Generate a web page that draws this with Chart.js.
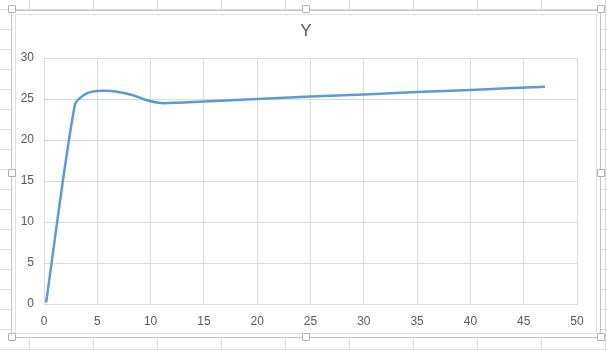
<!DOCTYPE html>
<html>
<head>
<meta charset="utf-8">
<script src="https://cdn.jsdelivr.net/npm/chart.js@4.4.0/dist/chart.umd.min.js"></script>
<style>
  html, body { margin: 0; padding: 0; }
  body {
    width: 607px; height: 350px; position: relative; overflow: hidden;
    background-color: #fff;
    background-image:
      linear-gradient(to right, #dadada 1px, transparent 1px),
      linear-gradient(to bottom, #dadada 1px, transparent 1px);
    background-size: 64px 20px;
    background-position: 29px 9px;
  }
  #frame {
    position: absolute; left: 11px; top: 10px; width: 588px; height: 326px;
    background: #fff; border: 1px solid #c4c4c4;
  }
  #inner {
    position: absolute; left: 3px; top: 3px; right: 3px; bottom: 3px;
    border: 1px solid #e2e2e2;
  }
  .h {
    position: absolute; width: 6px; height: 6px; background: #fff;
    border: 1px solid #b0b0b0; border-radius: 1px;
  }
  #wrap { position: absolute; left: 12px; top: 11px; width: 588px; height: 326px; }
</style>
</head>
<body>
<div id="frame"><div id="inner"></div></div>
<div class="h" style="left:8px;top:5px"></div>
<div class="h" style="left:302px;top:5px"></div>
<div class="h" style="left:597px;top:5px"></div>
<div class="h" style="left:8px;top:169px"></div>
<div class="h" style="left:597px;top:169px"></div>
<div class="h" style="left:8px;top:333px"></div>
<div class="h" style="left:302px;top:333px"></div>
<div class="h" style="left:597px;top:333px"></div>
<div id="wrap"><canvas id="c" width="588" height="326"></canvas></div>
<script>
// values
const xValues = [0.2, 2.9, 4.0, 5.5, 7.0, 8.5, 9.5, 11.0, 15, 20, 25, 30, 35, 40, 47];
const yValues = [0.2, 24.3, 25.7, 26.0, 25.85, 25.4, 24.9, 24.5, 24.7, 25.0, 25.3, 25.55, 25.85, 26.1, 26.5];
const xTicks = { min: 0, max: 50, step: 5 };
const yTicks = { min: 0, max: 30, step: 5 };
const titleText = 'Y';

const points = xValues.map((x, i) => ({ x: x, y: yValues[i] }));
const grey = '#595959';
const gridColor = '#d9d9d9';
const fontFam = '"Liberation Sans", Arial, sans-serif';

// centre the title over the whole chart, not just the padded box
const centreTitle = {
  id: 'centreTitle',
  afterLayout(chart) {
    if (chart.titleBlock) {
      chart.titleBlock.left = 0;
      chart.titleBlock.right = chart.width;
    }
  }
};

new Chart(document.getElementById('c').getContext('2d'), {
  type: 'scatter',
  data: {
    datasets: [{
      label: 'Y',
      data: points,
      showLine: true,
      borderColor: '#5b9bd5',
      borderWidth: 2.5,
      pointRadius: 0,
      pointHoverRadius: 0,
      tension: 0.25,
      fill: false
    }]
  },
  options: {
    responsive: false,
    animation: false,
    layout: { padding: { left: 0, top: 0, right: 23, bottom: 0 } },
    plugins: {
      legend: { display: false },
      tooltip: { enabled: false },
      title: {
        display: true,
        text: titleText,
        color: grey,
        font: { family: fontFam, size: 17, weight: 'normal' },
        padding: { top: 10, bottom: 16.6 }
      }
    },
    scales: {
      x: {
        type: 'linear',
        min: xTicks.min, max: xTicks.max,
        grid: { color: gridColor, drawTicks: false },
        border: { color: gridColor },
        ticks: { stepSize: xTicks.step, color: grey, padding: 10, font: { family: fontFam, size: 12 } },
        afterFit: s => { s.height = 33; }
      },
      y: {
        min: yTicks.min, max: yTicks.max,
        grid: { color: gridColor, drawTicks: false },
        border: { color: gridColor },
        ticks: { stepSize: yTicks.step, color: grey, padding: 10, font: { family: fontFam, size: 12 } },
        afterFit: s => { s.width = 32; }
      }
    }
  },
  plugins: [centreTitle]
});
</script>
</body>
</html>
